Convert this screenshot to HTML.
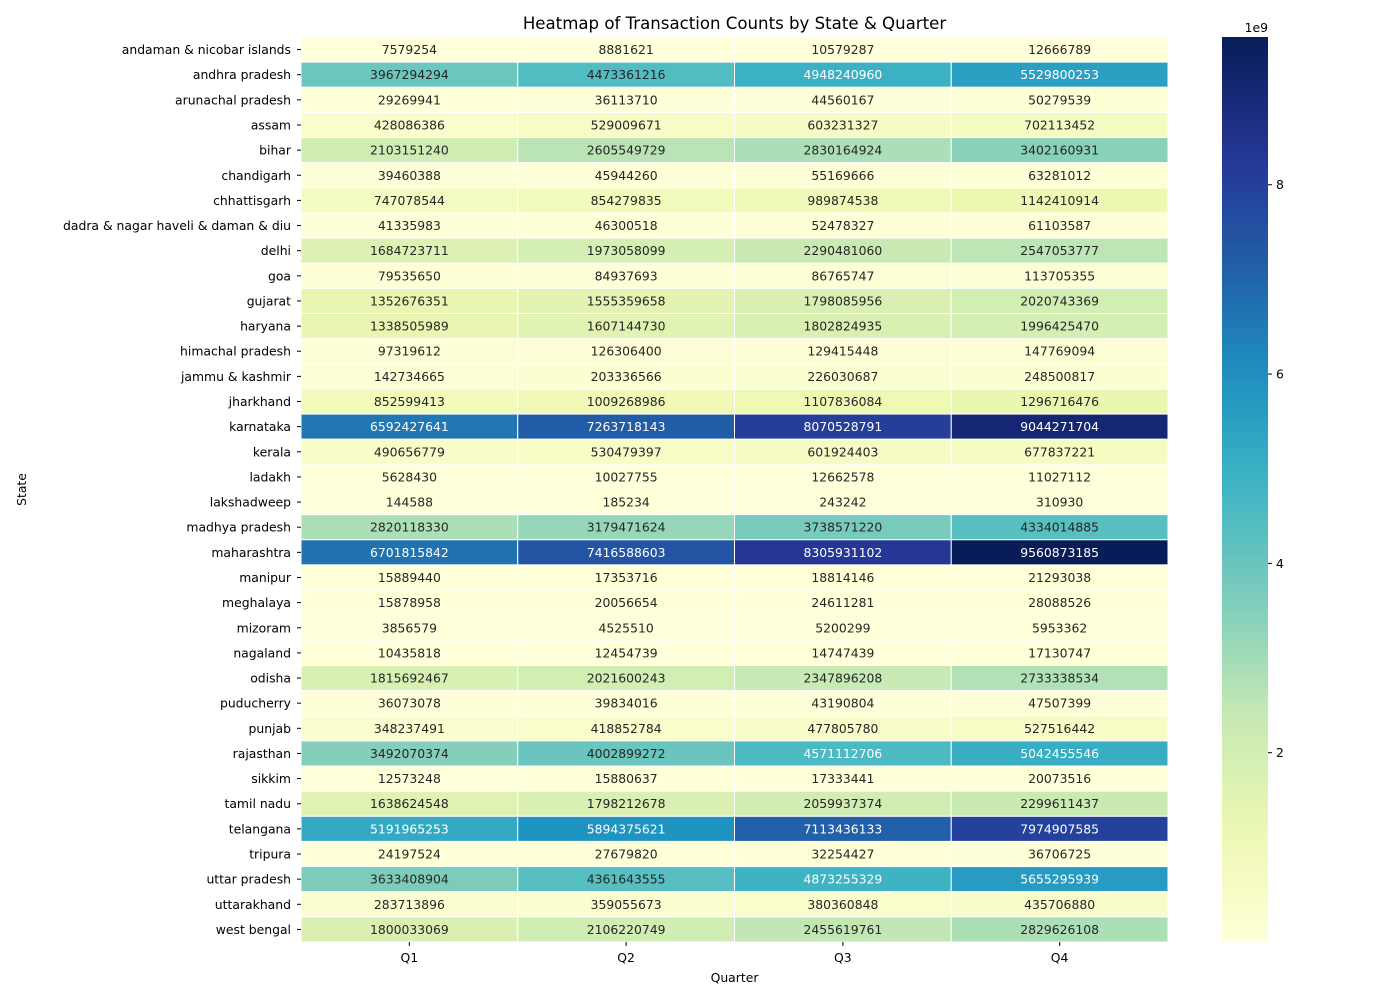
<!DOCTYPE html>
<html><head><meta charset="utf-8"><style>
body{margin:0;background:#fff;font-family:"Liberation Sans","DejaVu Sans",sans-serif;}
svg text{font-family:"DejaVu Sans","Liberation Sans",sans-serif;}
</style></head><body>
<svg id="c" width="1400" height="1000" xmlns="http://www.w3.org/2000/svg">
<defs><linearGradient id="cbg" x1="0" y1="1" x2="0" y2="0"></linearGradient></defs>
</svg>
<script>
const states=["andaman & nicobar islands","andhra pradesh","arunachal pradesh","assam","bihar","chandigarh","chhattisgarh","dadra & nagar haveli & daman & diu","delhi","goa","gujarat","haryana","himachal pradesh","jammu & kashmir","jharkhand","karnataka","kerala","ladakh","lakshadweep","madhya pradesh","maharashtra","manipur","meghalaya","mizoram","nagaland","odisha","puducherry","punjab","rajasthan","sikkim","tamil nadu","telangana","tripura","uttar pradesh","uttarakhand","west bengal"];
const quarters=["Q1","Q2","Q3","Q4"];
const values=[
[7579254,8881621,10579287,12666789],
[3967294294,4473361216,4948240960,5529800253],
[29269941,36113710,44560167,50279539],
[428086386,529009671,603231327,702113452],
[2103151240,2605549729,2830164924,3402160931],
[39460388,45944260,55169666,63281012],
[747078544,854279835,989874538,1142410914],
[41335983,46300518,52478327,61103587],
[1684723711,1973058099,2290481060,2547053777],
[79535650,84937693,86765747,113705355],
[1352676351,1555359658,1798085956,2020743369],
[1338505989,1607144730,1802824935,1996425470],
[97319612,126306400,129415448,147769094],
[142734665,203336566,226030687,248500817],
[852599413,1009268986,1107836084,1296716476],
[6592427641,7263718143,8070528791,9044271704],
[490656779,530479397,601924403,677837221],
[5628430,10027755,12662578,11027112],
[144588,185234,243242,310930],
[2820118330,3179471624,3738571220,4334014885],
[6701815842,7416588603,8305931102,9560873185],
[15889440,17353716,18814146,21293038],
[15878958,20056654,24611281,28088526],
[3856579,4525510,5200299,5953362],
[10435818,12454739,14747439,17130747],
[1815692467,2021600243,2347896208,2733338534],
[36073078,39834016,43190804,47507399],
[348237491,418852784,477805780,527516442],
[3492070374,4002899272,4571112706,5042455546],
[12573248,15880637,17333441,20073516],
[1638624548,1798212678,2059937374,2299611437],
[5191965253,5894375621,7113436133,7974907585],
[24197524,27679820,32254427,36706725],
[3633408904,4361643555,4873255329,5655295939],
[283713896,359055673,380360848,435706880],
[1800033069,2106220749,2455619761,2829626108]];
const cbTicks=[2,4,6,8];

const NS="http://www.w3.org/2000/svg";
const svg=document.getElementById('c');
const X0=301,X1=1168,Y0=37,Y1=942;
const FS=12.4;
const cw=(X1-X0)/quarters.length, rh=(Y1-Y0)/states.length;
let vmin=Infinity,vmax=-Infinity;
values.forEach(r=>r.forEach(v=>{vmin=Math.min(vmin,v);vmax=Math.max(vmax,v);}));
const cmap=["#ffffd9","#edf8b1","#c7e9b4","#7fcdbb","#41b6c4","#1d91c0","#225ea8","#253494","#081d58"].map(h=>[parseInt(h.substr(1,2),16),parseInt(h.substr(3,2),16),parseInt(h.substr(5,2),16)]);
function col(t){t=Math.max(0,Math.min(1,t));const p=t*8,i=Math.min(7,Math.floor(p)),f=p-i;return cmap[i].map((c,k)=>Math.round(c+(cmap[i+1][k]-c)*f));}
function lum(c){const l=c.map(v=>{v/=255;return v<=0.03928?v/12.92:Math.pow((v+0.055)/1.055,2.4);});return 0.2126*l[0]+0.7152*l[1]+0.0722*l[2];}
function mk(t,a,p){const e=document.createElementNS(NS,t);for(const k in a)e.setAttribute(k,a[k]);(p||svg).appendChild(e);return e;}
function txt(s,a,p){const e=mk('text',a,p);e.textContent=s;return e;}
const xs=i=>X0+i*cw, ys=j=>Y0+j*rh;
const title=txt("Heatmap of Transaction Counts by State & Quarter",{x:(X0+X1)/2,y:29,'text-anchor':'middle','font-size':16.6,fill:'#000'});


const g=mk('g',{});


values.forEach((row,j)=>row.forEach((v,i)=>{
  const c=col((v-vmin)/(vmax-vmin));
  const r=mk('rect',{x:xs(i),y:ys(j),width:cw,height:rh,fill:`rgb(${c})`,stroke:'#fff','stroke-width':1},g);
  
  
  const t=txt(String(v),{x:xs(i)+cw/2,y:ys(j)+rh/2+4.5,'text-anchor':'middle','font-size':FS,fill:lum(c)>0.408?'#262626':'#fff'},g);
  
  
}));
states.forEach((s,j)=>{
  mk('line',{x1:X0-4,x2:X0,y1:ys(j)+rh/2,y2:ys(j)+rh/2,stroke:'#000'});
  const t=txt(s,{x:X0-10,y:ys(j)+rh/2+4.5,'text-anchor':'end','font-size':FS,fill:'#000'});
  
  
});
quarters.forEach((q,i)=>{
  mk('line',{x1:xs(i)+cw/2,x2:xs(i)+cw/2,y1:Y1,y2:Y1+4,stroke:'#000'});
  const t=txt(q,{x:xs(i)+cw/2,y:Y1+20,'text-anchor':'middle','font-size':FS,fill:'#000'});
  
  
});
const xt=txt("Quarter",{x:(X0+X1)/2,y:982,'text-anchor':'middle','font-size':FS,fill:'#000'});


const yt=txt("State",{x:0,y:0,'text-anchor':'middle','font-size':FS,fill:'#000',transform:`translate(26,${(Y0+Y1)/2}) rotate(-90)`});


const grad=document.getElementById('cbg');
for(let k=0;k<=20;k++){const c=col(k/20);mk('stop',{offset:k/20,'stop-color':`rgb(${c})`},grad);}
const CX=1222,CW=46;
const cb=mk('rect',{x:CX,y:Y0,width:CW,height:Y1-Y0,fill:'url(#cbg)'});


const cy=v=>Y1-(v*1e9-vmin)/(vmax-vmin)*(Y1-Y0);
cbTicks.forEach(t=>{
  mk('line',{x1:CX+CW,x2:CX+CW+4,y1:cy(t),y2:cy(t),stroke:'#000'});
  const e=txt(String(t),{x:CX+CW+8,y:cy(t)+4.5,'font-size':FS,fill:'#000'});
  
  
});
const ex=txt("1e9",{x:CX+CW,y:32,'text-anchor':'end','font-size':FS,fill:'#000'});


</script>
</body></html>
